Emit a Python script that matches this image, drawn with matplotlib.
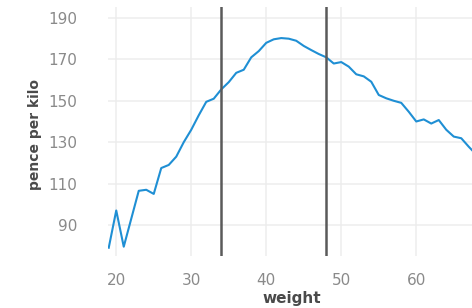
import matplotlib

matplotlib.use("Agg")

import matplotlib.pyplot as plt


# weight in kg vs average price in pence per kilo
weights = list(range(19, 69))
pence_per_kilo = [
    79, 97, 79.5, 93, 106.5, 107, 105, 117.5, 119, 123,
    130, 136, 143, 149.5, 151, 155.5, 159, 163.5, 165, 171,
    174, 178, 179.7, 180.3, 180, 179, 176.5, 174.5, 172.6, 171,
    168, 168.7, 166.5, 162.8, 161.8, 159.2, 152.8, 151.2, 150, 149,
    144.7, 140, 141, 139, 140.7, 136, 132.7, 131.9, 127.8, 124,
]
cutoffs = [34, 48]

x_ticks = [20, 30, 40, 50, 60, 70]
y_ticks = [90, 110, 130, 150, 170, 190]

fig = plt.figure(figsize=(4.72, 3.08), dpi=100)
ax = fig.add_axes([0.2288, 0.1688, 0.8279, 0.8084])

ax.plot(weights, pence_per_kilo, color="#1f8fd4", linewidth=1.5, zorder=3)
for c in cutoffs:
    ax.axvline(c, color="#5a5a5a", linewidth=1.8, zorder=4)

ax.set_xlim(18.9, 71)
ax.set_ylim(75, 195.3)
ax.set_xticks(x_ticks)
ax.set_yticks(y_ticks)
ax.grid(True, color="#ededed", linewidth=1.1, zorder=0)
ax.set_axisbelow(True)
for s in ax.spines.values():
    s.set_visible(False)
ax.tick_params(length=0, labelsize=11, labelcolor="#8a8a8a")
ax.tick_params(axis="y", pad=22)
ax.tick_params(axis="x", pad=12)

ax.set_xlabel("weight", fontsize=11, fontweight="bold", color="#4a4a4a")
ax.set_ylabel("pence per kilo", fontsize=10, fontweight="bold", color="#4a4a4a")
ax.xaxis.set_label_coords(0.471, -0.14)
ax.yaxis.set_label_coords(-0.169, 0.49)

fig.savefig("out.png", dpi=100)
